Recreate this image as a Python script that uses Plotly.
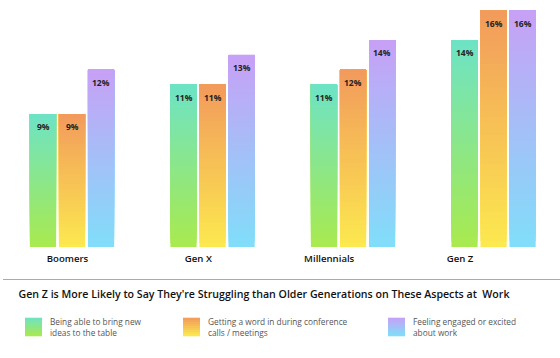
import plotly.graph_objects as go

# ---- data ----
categories = ["Boomers", "Gen X", "Millennials", "Gen Z"]
series_names = [
    "Being able to bring new<br>ideas to the table",
    "Getting a word in during conference<br>calls / meetings",
    "Feeling engaged or excited<br>about work",
]
bring_ideas = [9, 11, 11, 14]
getting_word = [9, 11, 12, 16]
feeling_engaged = [12, 13, 14, 16]
title_text = "Gen Z is More Likely to Say They're Struggling than Older Generations on These Aspects at  Work"

# ---- styles ----
series_values = [bring_ideas, getting_word, feeling_engaged]
grad_top = [(109, 227, 198), (242, 154, 92), (200, 160, 246)]
grad_bottom = [(169, 234, 78), (252, 233, 79), (128, 222, 249)]
N_SEG = 40
W, H = 560, 358
PLOT_BOTTOM = 247  # pixel y of plot bottom
SLOT_PX = 29


def mix(c0, c1, t):
    return "rgb({},{},{})".format(*[round(a + (b - a) * t) for a, b in zip(c0, c1)])


fig = go.Figure()

for j, vals in enumerate(series_values):
    for k in range(N_SEG):
        t = (k + 0.5) / N_SEG
        fig.add_trace(go.Bar(
            x=categories,
            y=[v * (N_SEG - k) / N_SEG for v in vals],
            base=[v * k / N_SEG for v in vals],
            offsetgroup=f"s{j}",
            marker=dict(color=mix(grad_bottom[j], grad_top[j], t), line=dict(width=0)),
            showlegend=False,
            hoverinfo="skip",
        ))

# dummy trace carrying category labels on the secondary axis
fig.add_trace(go.Scatter(
    x=categories, y=[0] * len(categories), xaxis="x2", yaxis="y",
    mode="markers", marker=dict(opacity=0), showlegend=False, hoverinfo="skip",
))

annotations = []
for j, vals in enumerate(series_values):
    for c, v in zip(categories, vals):
        annotations.append(dict(
            x=c, y=v, xref="x", yref="y", text=f"{v}%", showarrow=False,
            xshift=(j - 1) * SLOT_PX, yshift=-12.6, yanchor="middle",
            font=dict(family="Open Sans", size=8.5, color="#222", weight=700),
        ))

# custom legend
shapes = []
legend_x = [25, 183, 388]
sw_y0, sw_y1 = 317.7, 336
n_strip = 9


def py(ypix):
    return (PLOT_BOTTOM - ypix) / PLOT_BOTTOM


for j, lx in enumerate(legend_x):
    h = (sw_y1 - sw_y0) / n_strip
    for s in range(n_strip):
        t = 1 - (s + 0.5) / n_strip
        shapes.append(dict(
            type="rect", xref="paper", yref="paper",
            x0=lx / W, x1=(lx + 17) / W,
            y0=py(sw_y0 + s * h), y1=py(sw_y0 + (s + 1) * h + 0.3),
            fillcolor=mix(grad_bottom[j], grad_top[j], t), line=dict(width=0), layer="above",
        ))
    annotations.append(dict(
        x=(lx + 22.5) / W, y=py(327), xref="paper", yref="paper",
        text=series_names[j], showarrow=False, xanchor="left", yanchor="middle", align="left",
        font=dict(family="Open Sans", size=8.3, color="#555"),
    ))

shapes.append(dict(
    type="line", xref="paper", yref="paper",
    x0=3 / W, x1=1, y0=py(279.5), y1=py(279.5),
    line=dict(color="#aaaaaa", width=1),
))

fig.update_layout(
    width=W, height=H,
    margin=dict(l=0, r=0, t=0, b=H - PLOT_BOTTOM),
    paper_bgcolor="white", plot_bgcolor="rgba(0,0,0,0)",
    barmode="group", bargap=0.38, bargroupgap=0.1,
    xaxis=dict(type="category", categoryarray=categories, range=[-0.5125, 3.473],
               showticklabels=False, showgrid=False, zeroline=False, showline=False, ticks=""),
    xaxis2=dict(type="category", categoryarray=categories, range=[-0.516, 3.764],
                anchor="y", overlaying="x",
                showgrid=False, zeroline=False, showline=False, ticks="",
                ticklabelstandoff=4,
                tickfont=dict(family="Open Sans", size=9.6, color="#111", weight=600)),
    yaxis=dict(range=[0, 16.72], visible=False, showgrid=False, zeroline=False),
    title=dict(text=title_text, x=264 / W, xanchor="center", y=1 - 294.3 / H, yanchor="middle",
               yref="container",
               font=dict(family="Open Sans", size=10.6, color="#111", weight=600)),
    annotations=annotations,
    shapes=shapes,
    showlegend=False,
)

fig.write_html(
    "out.html",
    config={"displayModeBar": False},
    post_script="document.body.style.margin='0';document.body.style.overflow='hidden';",
)
